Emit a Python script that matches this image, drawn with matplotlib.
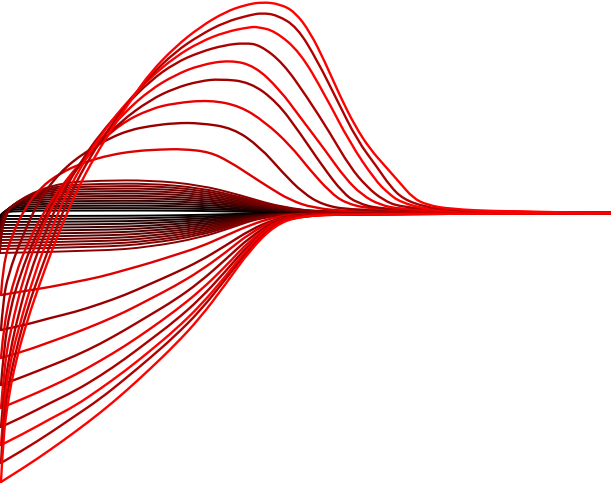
import matplotlib
matplotlib.use("Agg")
import matplotlib.pyplot as plt
from matplotlib.path import Path
from matplotlib.patches import PathPatch

# values are in picture units: x to the right, y downwards, rest level at y = 213

# --- big loops (outermost first) ---
big_colors = ['#ff0000', '#b00000', '#ff0000', '#aa0000', '#f00000',
              '#a00000', '#e80000', '#980000', '#dd0000']

up1_x = [1, 3, 8, 16, 28, 40, 52, 62, 77, 95, 115, 133, 150, 175, 200, 225, 245, 262, 280, 295, 310, 325, 340, 355, 370, 385, 400, 413, 427, 450, 500, 611]
up1_y = [482, 440, 400, 360, 318, 283, 250, 225, 190, 156, 124, 97, 73, 47, 27, 12, 5, 2, 4, 12, 32, 62, 96, 126, 149, 166, 183, 198, 205, 209, 211.5, 213]
up2_x = [1, 3, 8, 16, 27, 40, 55, 71, 90, 110, 130, 150, 175, 200, 225, 250, 262, 277, 297, 317, 337, 357, 377, 390, 403, 425, 450, 500, 611]
up2_y = [463, 425, 388, 350, 310, 272, 232, 192, 157, 127, 100, 76, 52, 35, 22, 15, 13, 15, 27, 60, 100, 140, 167, 186, 199, 207, 210, 212, 213]
up3_x = [1, 4, 9, 18, 35, 50, 66, 85, 105, 128, 150, 175, 200, 225, 250, 258, 275, 300, 325, 350, 375, 388, 400, 425, 450, 500, 611]
up3_y = [445, 405, 368, 330, 272, 233, 194, 160, 129, 101, 78, 57, 42, 32, 27, 27, 31, 52, 95, 143, 180, 193, 202, 209, 211, 212, 213]
up4_x = [1, 4, 10, 19, 30, 45, 61, 80, 100, 125, 150, 175, 200, 225, 245, 260, 283, 307, 330, 350, 367, 383, 400, 450, 500, 611]
up4_y = [427, 390, 352, 312, 273, 233, 196, 163, 134, 106, 81, 63, 52, 45, 43, 45, 63, 97, 133, 167, 187, 200, 207, 211, 212, 213]
up5_x = [1, 4, 10, 25, 40, 56, 75, 100, 125, 150, 175, 200, 230, 255, 280, 300, 325, 345, 362, 380, 400, 450, 611]
up5_y = [408, 370, 332, 272, 233, 199, 170, 140, 112, 90, 75, 65, 60, 66, 90, 117, 150, 178, 195, 205, 209, 211.5, 213]
up6_x = [1, 4, 10, 20, 35, 51, 70, 95, 120, 150, 175, 200, 220, 250, 277, 300, 323, 343, 357, 380, 450, 611]
up6_y = [385, 348, 310, 275, 237, 205, 177, 148, 122, 100, 88, 81, 79, 82, 102, 133, 167, 193, 203, 209, 211.5, 213]
up7_x = [1, 4, 15, 29, 45, 65, 90, 120, 150, 175, 210, 240, 265, 290, 310, 330, 345, 370, 450, 611]
up7_y = [358, 322, 275, 240, 210, 181, 152, 124, 109, 103, 100, 106, 122, 145, 170, 192, 203, 209, 212, 213]
up8_x = [1, 3, 8, 22, 39, 60, 85, 110, 130, 150, 175, 200, 233, 260, 283, 303, 323, 350, 450, 611]
up8_y = [330, 302, 275, 237, 200, 172, 152, 138, 130, 126, 123, 123, 128, 147, 173, 193, 205, 210, 212, 213]
up9_x = [1, 3, 12, 25, 40, 60, 85, 110, 135, 160, 183, 210, 230, 250, 270, 290, 313, 350, 450, 611]
up9_y = [295, 265, 235, 208, 188, 173, 162, 155, 151, 149.5, 149, 152, 162, 175, 188, 200, 208, 211.5, 212.5, 213]

low_x = [1, 25, 50, 75, 100, 125, 150, 175, 200, 225, 250, 275, 300, 350, 611]
low1_y = [482, 467, 450, 432, 413, 392, 369, 345, 318, 285, 250, 225, 216, 214, 213]
low2_y = [463, 449, 433, 416, 399, 379, 358, 336, 311, 280, 248, 224, 216, 214, 213]
low3_y = [445, 433, 419, 406, 389, 371, 351, 330, 306, 277, 245, 223, 216, 214, 213]
low4_y = [427, 416, 403, 391, 376, 359, 340, 321, 299, 272, 243, 223, 215, 214, 213]
low5_y = [408, 398, 387, 375, 361, 346, 329, 311, 291, 267, 240, 222, 215, 214, 213]
low6_y = [385, 376, 366, 356, 344, 330, 315, 300, 282, 260, 237, 221, 215, 214, 213]
low7_y = [358, 351, 342, 333, 323, 312, 299, 286, 271, 253, 233, 220, 215, 214, 213]
low8_y = [330, 325, 318, 312, 304, 295, 284, 273, 261, 246, 230, 219, 214, 213.5, 213]
low9_y = [295, 291, 287, 282, 277, 270, 263, 255, 247, 236, 225, 217, 214, 213.5, 213]

# --- small loops of the dark band (innermost first) ---
band_colors = ['#000000', '#100000', '#1c0000', '#2a0000', '#380000', '#440000', '#500000',
               '#5c0000', '#680000', '#700000', '#780000', '#800000', '#880000']

band_up_x = [
    [0, 1.5, 2.1, 13.9, 100, 150, 200, 240, 280, 330, 611],
    [0, 1.5, 4.2, 17.8, 100, 150, 200, 240, 280, 330, 611],
    [0, 1.5, 6.3, 21.7, 100, 150, 200, 240, 280, 330, 611],
    [0, 1.5, 8.4, 25.6, 100, 150, 200, 240, 280, 330, 611],
    [0, 1.5, 10.5, 29.5, 100, 150, 200, 240, 280, 330, 611],
    [0, 1.5, 12.6, 33.4, 100, 150, 200, 240, 280, 330, 611],
    [0, 1.5, 14.7, 37.3, 100, 150, 200, 240, 280, 330, 611],
    [0, 1.5, 16.8, 41.2, 100, 150, 200, 240, 280, 330, 611],
    [0, 1.5, 18.9, 45.1, 100, 150, 200, 240, 280, 330, 611],
    [0, 1.5, 21.0, 49.0, 100, 150, 200, 240, 280, 330, 611],
    [0, 1.5, 23.1, 52.9, 100, 150, 200, 240, 280, 330, 611],
    [0, 1.5, 25.2, 56.8, 100, 150, 200, 240, 280, 330, 611],
    [0, 1.5, 28.0, 62.0, 100, 150, 200, 240, 280, 330, 611],
]
band_up_y = [
    [216, 214, 213.4, 210.7, 210.6, 210.5, 210.9, 211.7, 212.6, 213, 213],
    [219, 214, 211.9, 208.4, 208.1, 208.1, 208.8, 210.3, 212.1, 213, 213],
    [222, 214, 210.3, 206.2, 205.7, 205.6, 206.7, 209.0, 211.7, 213, 213],
    [225, 214, 208.7, 203.9, 203.3, 203.2, 204.6, 207.6, 211.2, 213, 213],
    [228, 214, 207.1, 201.6, 200.9, 200.7, 202.5, 206.3, 210.8, 213, 213],
    [231, 214, 205.6, 199.3, 198.4, 198.2, 200.4, 204.9, 210.3, 213, 213],
    [234, 214, 204.0, 197.0, 196.0, 195.8, 198.3, 203.6, 209.9, 213, 213],
    [237, 214, 202.4, 194.8, 193.6, 193.3, 196.2, 202.2, 209.4, 213, 213],
    [240, 214, 200.8, 192.5, 191.1, 190.9, 194.1, 200.9, 209.0, 213, 213],
    [243, 214, 199.3, 190.2, 188.7, 188.4, 192.0, 199.5, 208.5, 213, 213],
    [246, 214, 197.7, 187.9, 186.3, 185.9, 189.9, 198.2, 208.1, 213, 213],
    [249, 214, 196.1, 185.6, 183.8, 183.5, 187.8, 196.8, 207.6, 213, 213],
    [253, 214, 194.0, 182.6, 180.6, 180.2, 185.0, 195.0, 207.0, 213, 213],
]

band_low_x = [0, 100, 150, 200, 230, 260, 300, 350, 611]
band_low_y = [
    [216, 215.9, 215.6, 214.9, 214.1, 213.4, 213.0, 213, 213],
    [219, 218.7, 218.1, 216.7, 215.3, 213.7, 213.1, 213, 213],
    [222, 221.6, 220.7, 218.6, 216.4, 214.1, 213.1, 213, 213],
    [225, 224.4, 223.2, 220.4, 217.6, 214.4, 213.1, 213, 213],
    [228, 227.3, 225.8, 222.3, 218.7, 214.8, 213.2, 213, 213],
    [231, 230.1, 228.3, 224.2, 219.8, 215.2, 213.2, 213, 213],
    [234, 233.0, 230.9, 226.0, 221.0, 215.5, 213.2, 213, 213],
    [237, 235.8, 233.4, 227.9, 222.1, 215.9, 213.2, 213, 213],
    [240, 238.7, 236.0, 229.7, 223.3, 216.2, 213.3, 213, 213],
    [243, 241.5, 238.5, 231.6, 224.4, 216.6, 213.3, 213, 213],
    [246, 244.4, 241.1, 233.5, 225.5, 217.0, 213.3, 213, 213],
    [249, 247.2, 243.6, 235.3, 226.7, 217.3, 213.4, 213, 213],
    [253, 251.0, 247.0, 237.8, 228.2, 217.8, 213.4, 213, 213],
]

big_up = [(up1_x, up1_y), (up2_x, up2_y), (up3_x, up3_y), (up4_x, up4_y), (up5_x, up5_y),
          (up6_x, up6_y), (up7_x, up7_y), (up8_x, up8_y), (up9_x, up9_y)]
big_low = [low1_y, low2_y, low3_y, low4_y, low5_y, low6_y, low7_y, low8_y, low9_y]


def smooth_line(ax, xs, ys, color, lw):
    # quadratic bezier through the midpoints, the read points act as control points
    pts = list(zip(xs, ys))
    verts = [pts[0]]
    codes = [Path.MOVETO]
    for i in range(1, len(pts) - 1):
        nxt = pts[i + 1] if i + 1 == len(pts) - 1 else (
            (pts[i][0] + pts[i + 1][0]) / 2, (pts[i][1] + pts[i + 1][1]) / 2)
        verts += [pts[i], nxt]
        codes += [Path.CURVE3, Path.CURVE3]
    ax.add_patch(PathPatch(Path(verts, codes), fill=False, edgecolor=color,
                           lw=lw, capstyle='round', joinstyle='round'))


def main():
    fig = plt.figure(figsize=(6.11, 4.84), dpi=100)
    ax = fig.add_axes([0, 0, 1, 1])

    # dark band first, the red loops are drawn over it
    for ux, uy, ly, c in zip(band_up_x, band_up_y, band_low_y, band_colors):
        smooth_line(ax, band_low_x, ly, c, 1.4)
        smooth_line(ax, ux, uy, c, 1.4)

    # big loops, innermost first so the outer red ones sit on top
    for (ux, uy), ly, c in reversed(list(zip(big_up, big_low, big_colors))):
        smooth_line(ax, low_x, ly, c, 1.7)
        smooth_line(ax, ux, uy, c, 1.7)

    ax.set_xlim(0, 611)
    ax.set_ylim(484, 0)
    ax.axis('off')
    fig.savefig("out.png", dpi=100)


if __name__ == "__main__":
    main()
